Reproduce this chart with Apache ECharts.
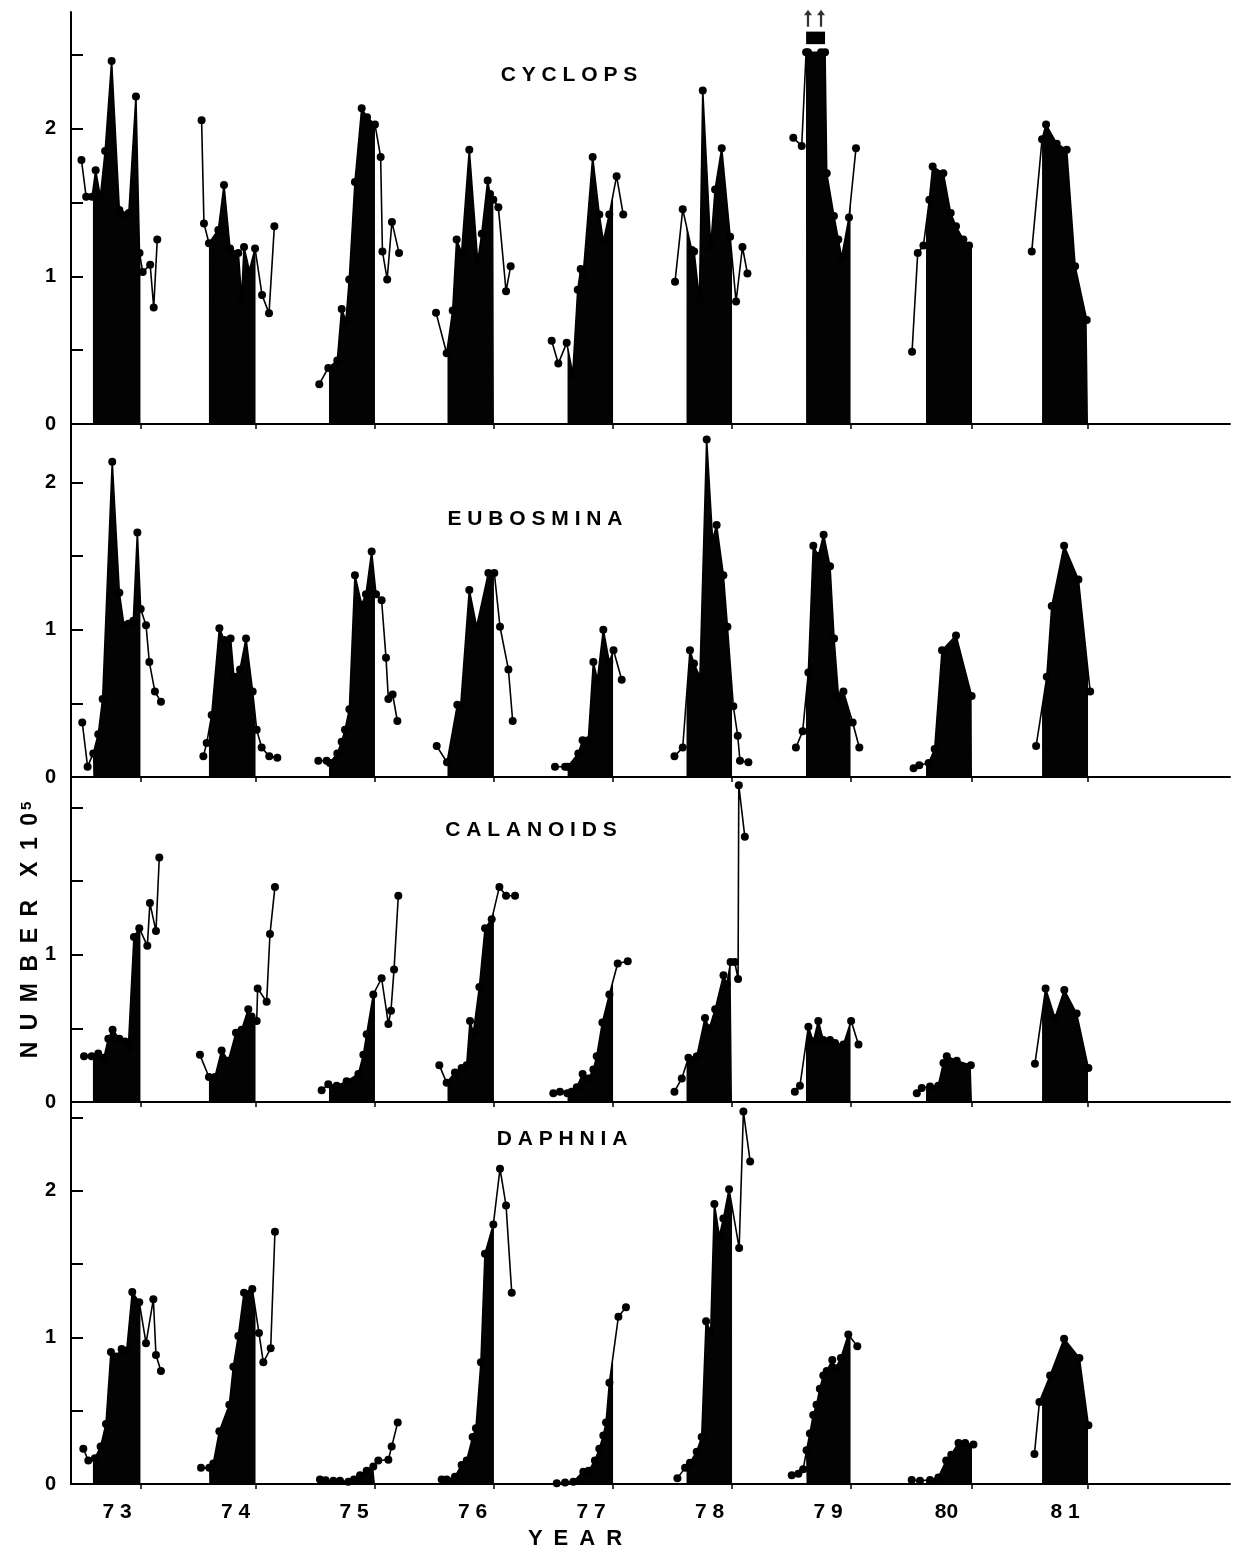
<!DOCTYPE html>
<html>
<head>
<meta charset="utf-8">
<script src="https://cdn.jsdelivr.net/npm/echarts@6/dist/echarts.min.js"></script>
<style>
  html, body { margin: 0; padding: 0; background: #fff; }
  #chart { width: 1251px; height: 1553px; }
</style>
</head>
<body>
<div id="chart"></div>
<script>
// Sampling date (decimal year, 19xx) and abundance (number x 10^5)
const cyclops = [
  [72.70,1.79],[72.74,1.54],[72.79,1.54],[72.82,1.72],[72.86,1.54],[72.90,1.85],[72.955,2.46],[73.02,1.45],[73.04,1.42],[73.10,1.43],[73.16,2.22],[73.19,1.16],[73.217,1.03],[73.28,1.08],[73.31,0.79],[73.34,1.25],
  [73.714,2.06],[73.734,1.36],[73.776,1.225],[73.855,1.315],[73.903,1.62],[73.954,1.19],[74.024,1.16],[74.052,0.85],[74.072,1.20],[74.117,1.04],[74.165,1.19],[74.224,0.875],[74.283,0.75],[74.328,1.34],
  [74.707,0.27],[74.783,0.38],[74.859,0.43],[74.896,0.78],[74.932,0.70],[74.96,0.98],[75.008,1.64],[75.065,2.14],[75.11,2.08],[75.177,2.03],[75.225,1.81],[75.24,1.17],[75.28,0.98],[75.32,1.37],[75.38,1.16],
  [75.692,0.755],[75.782,0.48],[75.833,0.77],[75.866,1.25],[75.908,1.16],[75.973,1.86],[76.044,1.10],[76.078,1.29],[76.128,1.65],[76.148,1.56],[76.176,1.52],[76.218,1.47],[76.283,0.90],[76.322,1.07],
  [76.668,0.565],[76.724,0.41],[76.795,0.55],[76.846,0.34],[76.888,0.91],[76.913,1.05],[76.935,1.02],[77.014,1.81],[77.07,1.42],[77.104,1.24],[77.154,1.42],[77.216,1.68],[77.272,1.42],
  [77.709,0.965],[77.774,1.455],[77.85,1.18],[77.87,1.17],[77.915,0.84],[77.943,2.26],[78.01,1.20],[78.047,1.59],[78.103,1.87],[78.174,1.27],[78.224,0.83],[78.278,1.20],[78.32,1.02],
  [78.707,1.94],[78.778,1.885],[78.815,2.52],[78.831,2.52],[78.941,2.52],[78.975,2.52],[78.989,1.70],[79.05,1.41],[79.087,1.25],[79.115,1.13],[79.177,1.40],[79.236,1.87],
  [79.709,0.49],[79.757,1.16],[79.805,1.21],[79.855,1.52],[79.883,1.745],[79.973,1.70],[80.035,1.43],[80.08,1.34],[80.142,1.25],[80.19,1.21],
  [80.719,1.17],[80.806,1.93],[80.84,2.03],[80.93,1.90],[81.014,1.86],[81.085,1.07],[81.183,0.705]
];
const eubosmina = [
  [72.707,0.37],[72.752,0.07],[72.80,0.16],[72.842,0.29],[72.879,0.53],[72.96,2.14],[73.02,1.25],[73.059,1.03],[73.096,1.04],[73.138,1.06],[73.172,1.66],[73.20,1.14],[73.245,1.03],[73.273,0.78],[73.32,0.58],[73.371,0.51],
  [73.729,0.14],[73.757,0.23],[73.799,0.42],[73.864,1.01],[73.906,0.93],[73.959,0.94],[73.987,0.68],[74.038,0.73],[74.089,0.94],[74.145,0.58],[74.179,0.32],[74.221,0.20],[74.285,0.14],[74.353,0.13],
  [74.699,0.11],[74.769,0.11],[74.797,0.095],[74.859,0.16],[74.896,0.24],[74.924,0.32],[74.961,0.46],[75.008,1.37],[75.065,1.17],[75.101,1.24],[75.149,1.53],[75.186,1.24],[75.233,1.20],[75.27,0.81],[75.29,0.53],[75.326,0.56],[75.366,0.38],
  [75.698,0.21],[75.785,0.10],[75.872,0.49],[75.90,0.48],[75.973,1.27],[76.035,1.02],[76.134,1.385],[76.184,1.385],[76.232,1.02],[76.303,0.73],[76.339,0.38],
  [76.696,0.07],[76.781,0.07],[76.803,0.07],[76.893,0.16],[76.929,0.25],[76.977,0.25],[77.02,0.78],[77.054,0.66],[77.104,1.00],[77.154,0.78],[77.19,0.86],[77.259,0.66],
  [77.704,0.14],[77.774,0.20],[77.835,0.86],[77.869,0.77],[77.919,0.68],[77.976,2.29],[78.026,1.61],[78.06,1.71],[78.117,1.37],[78.151,1.02],[78.201,0.48],[78.238,0.28],[78.257,0.11],[78.328,0.10],
  [78.729,0.20],[78.786,0.31],[78.834,0.71],[78.876,1.57],[78.918,1.50],[78.963,1.645],[79.017,1.43],[79.051,0.94],[79.088,0.55],[79.13,0.58],[79.208,0.37],[79.264,0.20],
  [79.722,0.06],[79.77,0.08],[79.849,0.095],[79.90,0.19],[79.962,0.86],[80.08,0.96],[80.212,0.55],
  [80.756,0.21],[80.846,0.68],[80.888,1.16],[80.992,1.57],[81.113,1.34],[81.212,0.58]
];
const calanoids = [
  [72.722,0.31],[72.786,0.31],[72.842,0.33],[72.89,0.30],[72.927,0.43],[72.963,0.49],[73.02,0.43],[73.068,0.41],[73.096,0.37],[73.143,1.12],[73.188,1.18],[73.256,1.06],[73.278,1.35],[73.329,1.16],[73.357,1.66],
  [73.70,0.32],[73.776,0.17],[73.827,0.17],[73.883,0.35],[73.94,0.28],[74.004,0.47],[74.052,0.49],[74.108,0.63],[74.136,0.58],[74.179,0.55],[74.187,0.77],[74.263,0.68],[74.291,1.14],[74.333,1.46],
  [74.727,0.08],[74.783,0.12],[74.854,0.11],[74.938,0.14],[75.037,0.19],[75.079,0.32],[75.107,0.46],[75.163,0.73],[75.233,0.84],[75.29,0.53],[75.312,0.62],[75.338,0.90],[75.374,1.40],
  [75.72,0.25],[75.782,0.13],[75.852,0.20],[75.908,0.23],[75.951,0.25],[75.979,0.55],[76.007,0.47],[76.058,0.78],[76.106,1.18],[76.162,1.24],[76.227,1.46],[76.283,1.40],[76.359,1.40],
  [76.682,0.06],[76.738,0.07],[76.80,0.06],[76.836,0.07],[76.88,0.10],[76.929,0.19],[76.977,0.16],[77.02,0.22],[77.048,0.31],[77.096,0.54],[77.155,0.73],[77.225,0.94],[77.31,0.955],
  [77.704,0.07],[77.766,0.16],[77.822,0.30],[77.893,0.31],[77.962,0.57],[77.999,0.50],[78.048,0.63],[78.118,0.86],[78.146,0.80],[78.178,0.95],[78.213,0.95],[78.241,0.835],[78.247,2.15],[78.298,1.80],
  [78.72,0.07],[78.763,0.11],[78.834,0.51],[78.876,0.41],[78.918,0.55],[78.96,0.42],[79.017,0.42],[79.059,0.40],[79.13,0.39],[79.195,0.55],[79.257,0.39],
  [79.749,0.06],[79.791,0.095],[79.861,0.105],[79.93,0.11],[79.974,0.265],[80.002,0.31],[80.086,0.28],[80.205,0.25],
  [80.746,0.26],[80.836,0.77],[80.915,0.57],[80.994,0.76],[81.098,0.60],[81.197,0.23]
];
const daphnia = [
  [72.716,0.24],[72.758,0.16],[72.814,0.175],[72.862,0.255],[72.907,0.41],[72.949,0.90],[72.992,0.87],[73.039,0.92],[73.082,0.91],[73.129,1.31],[73.188,1.24],[73.245,0.96],[73.307,1.26],[73.329,0.88],[73.371,0.77],
  [73.709,0.11],[73.779,0.11],[73.813,0.14],[73.864,0.36],[73.948,0.54],[73.982,0.80],[74.024,1.01],[74.072,1.305],[74.142,1.33],[74.198,1.03],[74.235,0.83],[74.297,0.925],[74.333,1.72],
  [74.713,0.03],[74.76,0.025],[74.826,0.023],[74.882,0.023],[74.952,0.016],[75.0,0.03],[75.051,0.06],[75.107,0.09],[75.163,0.12],[75.205,0.16],[75.29,0.165],[75.318,0.255],[75.369,0.42],
  [75.74,0.03],[75.782,0.03],[75.852,0.05],[75.908,0.13],[75.951,0.16],[76.001,0.32],[76.029,0.38],[76.071,0.83],[76.105,1.57],[76.176,1.77],[76.232,2.15],[76.283,1.90],[76.331,1.305],
  [76.711,0.005],[76.781,0.01],[76.851,0.016],[76.935,0.084],[76.98,0.09],[77.033,0.16],[77.07,0.24],[77.104,0.33],[77.127,0.42],[77.155,0.69],[77.231,1.14],[77.295,1.205],
  [77.729,0.04],[77.794,0.11],[77.835,0.145],[77.892,0.22],[77.934,0.32],[77.971,1.11],[78.01,1.04],[78.041,1.91],[78.083,1.69],[78.117,1.81],[78.165,2.01],[78.25,1.61],[78.286,2.54],[78.343,2.20],
  [78.694,0.06],[78.75,0.07],[78.79,0.10],[78.819,0.23],[78.847,0.345],[78.875,0.47],[78.903,0.54],[78.931,0.65],[78.96,0.74],[78.989,0.77],[79.036,0.845],[79.064,0.79],[79.109,0.86],[79.171,1.02],[79.247,0.94],
  [79.706,0.027],[79.776,0.023],[79.861,0.027],[79.931,0.045],[79.997,0.16],[80.04,0.20],[80.101,0.28],[80.157,0.28],[80.227,0.27],
  [80.742,0.205],[80.784,0.56],[80.874,0.74],[80.992,0.99],[81.121,0.86],[81.197,0.40]
];

// Shaded season (start, end) for each year
const seasons = [
  [72.797,73.198],[73.776,74.169],[74.789,75.177],[75.789,76.181],[76.802,77.186],
  [77.806,78.190],[78.814,79.190],[79.827,80.215],[80.806,81.194]
];

// Year axis
const yearTicks = [73, 74, 75, 76, 77, 78, 79, 80, 81];
const yearLabels = ['7 3', '7 4', '7 5', '7 6', '7 7', '7 8', '7 9', '80', '8 1'];

// Cyclops values above the top of the scale in 1979 (drawn at the clip level)
const cyclopsClipLevel = 2.52;

const FONT = '"Liberation Sans", Arial, Helvetica, sans-serif';
const X_MIN = 72.612, X_MAX = 82.392;
const GRID_LEFT = 71, GRID_WIDTH = 1159;
const SP = '\u2002';

const panels = [
  { name: 'C Y C L O P S',       data: cyclops,   top: 12,   height: 412, yMax: 2.793, labels: [0, 1, 2], title: [569, 75] },
  { name: 'E U B O S M I N A',   data: eubosmina, top: 424,  height: 353, yMax: 2.396, labels: [0, 1, 2], title: [535, 519] },
  { name: 'C A L A N O I D S',   data: calanoids, top: 777,  height: 325, yMax: 2.206, labels: [0, 1],    title: [531, 830] },
  { name: 'D A P H N I A',       data: daphnia,   top: 1102, height: 382, yMax: 2.605, labels: [0, 1, 2], title: [562, 1139] }
];

// value of the line at time t (linear between samples)
function lineValueAt(pts, t) {
  if (t <= pts[0][0]) return pts[0][1];
  for (let i = 1; i < pts.length; i++) {
    if (t <= pts[i][0]) {
      const a = pts[i - 1], b = pts[i];
      return a[1] + (b[1] - a[1]) * (t - a[0]) / (b[0] - a[0]);
    }
  }
  return pts[pts.length - 1][1];
}

// group samples by year (each year is its own broken segment)
function byYear(pts) {
  const groups = {};
  pts.forEach(p => {
    const y = Math.round(p[0]);
    (groups[y] = groups[y] || []).push(p);
  });
  return Object.keys(groups).sort().map(k => groups[k]);
}

// outline of the shaded area for one season
function seasonArea(yearPts, s) {
  const inside = yearPts.filter(p => p[0] > s[0] && p[0] < s[1]);
  return [[s[0], lineValueAt(yearPts, s[0])], ...inside, [s[1], lineValueAt(yearPts, s[1])]];
}

const grids = [], xAxes = [], yAxes = [], series = [], graphics = [];

panels.forEach((p, i) => {
  const last = i === panels.length - 1;
  grids.push({ left: GRID_LEFT, width: GRID_WIDTH, top: p.top, height: p.height });

  xAxes.push({
    type: 'value', gridIndex: i, min: X_MIN, max: X_MAX,
    axisLine: { show: true, onZero: false, lineStyle: { color: '#000', width: 2 } },
    axisTick: { show: true, length: 5, lineStyle: { color: '#000', width: 1.5 },
                customValues: seasons.map(s => s[1]) },
    axisLabel: last ? {
      show: true, customValues: yearTicks, margin: 18, color: '#000',
      fontFamily: FONT, fontWeight: 'bold', fontSize: 21,
      formatter: v => yearLabels[yearTicks.indexOf(Math.round(v))]
    } : { show: false },
    splitLine: { show: false }
  });

  yAxes.push({
    type: 'value', gridIndex: i, min: 0, max: p.yMax,
    axisLine: { show: true, lineStyle: { color: '#000', width: 2 } },
    axisTick: { show: true, inside: true, length: 12, lineStyle: { color: '#000', width: 2 },
                customValues: [0.5, 1, 1.5, 2, 2.5].filter(v => v < p.yMax - 0.1) },
    axisLabel: { show: true, customValues: p.labels, margin: 15, color: '#000',
                 fontFamily: FONT, fontWeight: 'bold', fontSize: 20 },
    splitLine: { show: false }
  });

  const years = byYear(p.data);
  years.forEach(yearPts => {
    const s = seasons.find(se => Math.round((se[0] + se[1]) / 2) === Math.round(yearPts[0][0]));
    if (s) {
      series.push({
        type: 'line', xAxisIndex: i, yAxisIndex: i, silent: true, z: 1,
        data: seasonArea(yearPts, s), symbol: 'none', showSymbol: false,
        lineStyle: { width: 0, color: '#000' },
        areaStyle: { color: '#030303', opacity: 1, origin: 'start' }
      });
    }
    series.push({
      type: 'line', xAxisIndex: i, yAxisIndex: i, silent: true, z: 2,
      data: yearPts, symbol: 'circle', symbolSize: 8, showSymbol: true,
      itemStyle: { color: '#000' },
      lineStyle: { color: '#000', width: 1.6 }
    });
  });

  graphics.push({
    type: 'text', x: p.title[0], y: p.title[1],
    style: { text: p.name, fill: '#000', font: 'bold 21px ' + FONT, align: 'center', verticalAlign: 'middle' }
  });
});

// Off-scale Cyclops samples in 1979: break mark and upward arrows
const offScale = cyclops.filter(d => d[1] >= cyclopsClipLevel);
const arrowTimes = [offScale[1][0], offScale[2][0]];
series.push({
  type: 'scatter', xAxisIndex: 0, yAxisIndex: 0, silent: true, z: 3,
  data: arrowTimes.map(t => [t, 2.75]),
  symbol: 'path://M5,0 L10,7 L6.4,7 L6.4,22 L3.6,22 L3.6,7 L0,7 Z',
  symbolSize: [8, 17], itemStyle: { color: '#000' },
  markArea: {
    silent: true, itemStyle: { color: '#000', opacity: 1 },
    data: [[{ coord: [offScale[0][0], 2.575] }, { coord: [offScale[offScale.length - 1][0], 2.66] }]]
  }
});

// Axis titles
const numberText = ['N', 'U', 'M', 'B', 'E', 'R'].join(SP);
graphics.push({
  type: 'text', x: 31, y: 930, rotation: Math.PI / 2,
  style: {
    text: '{m|' + numberText + SP + SP + 'X' + SP + '1' + SP + '0}{s|5}',
    align: 'center', verticalAlign: 'middle', fill: '#000',
    rich: {
      m: { font: 'bold 23px ' + FONT, fill: '#000' },
      s: { font: 'bold 15px ' + FONT, fill: '#000', verticalAlign: 'top', padding: [0, 0, 8, 3] }
    }
  }
});
graphics.push({
  type: 'text', x: 575, y: 1539,
  style: { text: ['Y', 'E', 'A', 'R'].join(SP), fill: '#000', font: 'bold 22px ' + FONT, align: 'center', verticalAlign: 'middle' }
});

const chart = echarts.init(document.getElementById('chart'), null, { renderer: 'canvas' });
chart.setOption({
  animation: false,
  backgroundColor: '#fff',
  grid: grids,
  xAxis: xAxes,
  yAxis: yAxes,
  series: series,
  graphic: graphics
});
</script>
</body>
</html>
